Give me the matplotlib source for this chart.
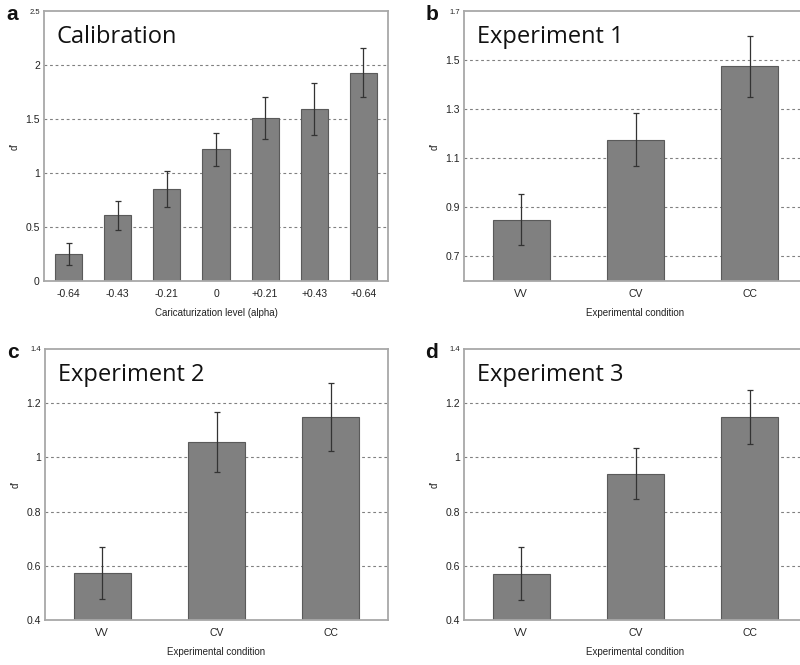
import matplotlib
matplotlib.use("Agg")
import matplotlib.pyplot as plt
import numpy as np

# ---- data ----
calib_levels = ["-0.64", "-0.43", "-0.21", "0", "+0.21", "+0.43", "+0.64"]
calib_means = [0.25, 0.61, 0.85, 1.22, 1.51, 1.59, 1.93]
calib_errs = [0.10, 0.135, 0.165, 0.155, 0.195, 0.24, 0.225]

conditions = ["VV", "CV", "CC"]
exp1_means = [0.85, 1.175, 1.475]
exp1_errs = [0.105, 0.108, 0.124]
exp2_means = [0.575, 1.056, 1.148]
exp2_errs = [0.096, 0.11, 0.125]
exp3_means = [0.571, 0.940, 1.148]
exp3_errs = [0.097, 0.093, 0.10]

BAR = "#808080"
EDGE = "#5a5a5a"
FRAME = "#a8a8a8"
TXT = "#222222"

fig = plt.figure(figsize=(8, 6.65), dpi=100)
W, H = 800.0, 665.0

def make_ax(l, t, r, b):
    return fig.add_axes([l / W, 1 - b / H, (r - l) / W, (b - t) / H])

def style(ax, ylim, yticks, ytl, xlabels, xlabel, title, letter, grid_ticks):
    x = np.arange(1, len(xlabels) + 1)
    ax.set_xlim(0.5, len(xlabels) + 0.5)
    ax.set_ylim(*ylim)
    ax.set_yticks(yticks)
    ax.set_yticklabels(ytl, fontsize=7.5, color=TXT, family="Liberation Sans")
    lbls = ax.get_yticklabels()
    lbls[-1].set_fontsize(5.5)
    ax.set_xticks(x)
    ax.set_xticklabels(xlabels, fontsize=7.5, color=TXT, family="Liberation Sans")
    ax.tick_params(axis="y", length=0, pad=3)
    ax.tick_params(axis="x", length=0, pad=6)
    for yv in grid_ticks:
        ax.axhline(yv, color="#808080", lw=0.8, ls=(0, (2.5, 2.5)), zorder=0)
    for s in ax.spines.values():
        s.set_color(FRAME)
        s.set_linewidth(1.3)
    ax.set_xlabel(xlabel, fontsize=7, color=TXT, family="Liberation Sans", labelpad=6)
    ax.set_ylabel("d'", fontsize=7, color=TXT, family="Liberation Sans", labelpad=4)
    h_px = ax.get_position().height * H
    w_px = ax.get_position().width * W
    ax.text(13 / w_px, 1 - 32 / h_px, title, transform=ax.transAxes, fontsize=17,
            family="Open Sans", color="#111111", va="baseline", ha="left")
    ax.text(-26 / w_px, 1 - 9 / h_px, letter, transform=ax.transAxes, fontsize=15,
            fontweight="bold", family="Liberation Sans", color="#111111",
            va="baseline", ha="right")
    return x

def bars(ax, x, means, errs, width):
    ax.bar(x, means, width=width, color=BAR, edgecolor=EDGE, linewidth=0.8, zorder=2)
    ax.errorbar(x, means, yerr=errs, fmt="none", ecolor="#333333",
                elinewidth=0.9, capsize=2, capthick=0.9, zorder=3)

# panel a
axa = make_ax(44, 11, 388, 281)
x = style(axa, (0, 2.5), [0, 0.5, 1, 1.5, 2, 2.5], ["0", "0.5", "1", "1.5", "2", "2.5"],
          calib_levels, "Caricaturization level (alpha)", "Calibration", "a",
          [0.5, 1, 1.5, 2])
bars(axa, x, calib_means, calib_errs, 0.55)

# panel b
axb = make_ax(464, 11, 807, 281)
x = style(axb, (0.6, 1.7), [0.7, 0.9, 1.1, 1.3, 1.5, 1.7],
          ["0.7", "0.9", "1.1", "1.3", "1.5", "1.7"],
          conditions, "Experimental condition", "Experiment 1", "b",
          [0.7, 0.9, 1.1, 1.3, 1.5])
bars(axb, x, exp1_means, exp1_errs, 0.5)

# panel c
axc = make_ax(45, 349, 388, 620)
x = style(axc, (0.4, 1.4), [0.4, 0.6, 0.8, 1.0, 1.2, 1.4],
          ["0.4", "0.6", "0.8", "1", "1.2", "1.4"],
          conditions, "Experimental condition", "Experiment 2", "c",
          [0.6, 0.8, 1.0, 1.2])
bars(axc, x, exp2_means, exp2_errs, 0.5)

# panel d
axd = make_ax(464, 349, 807, 620)
x = style(axd, (0.4, 1.4), [0.4, 0.6, 0.8, 1.0, 1.2, 1.4],
          ["0.4", "0.6", "0.8", "1", "1.2", "1.4"],
          conditions, "Experimental condition", "Experiment 3", "d",
          [0.6, 0.8, 1.0, 1.2])
bars(axd, x, exp3_means, exp3_errs, 0.5)

fig.savefig("out.png", dpi=100)
